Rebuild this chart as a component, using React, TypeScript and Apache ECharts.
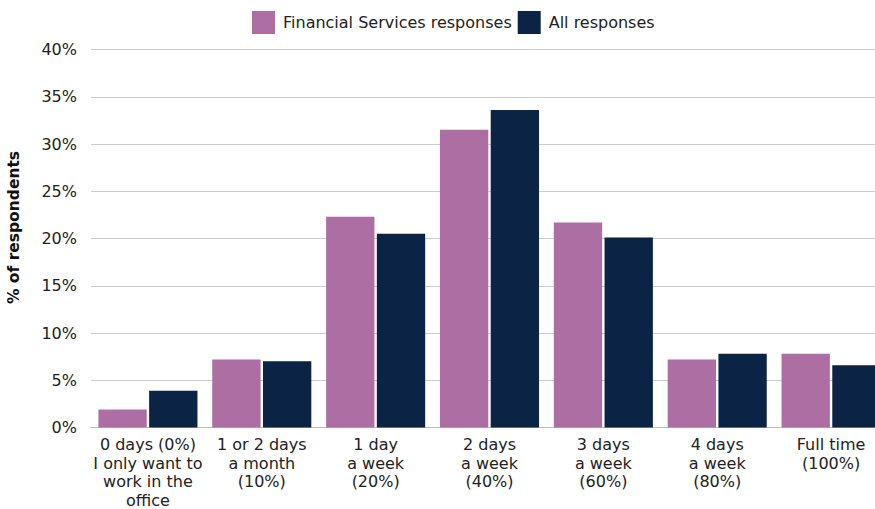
import React, { useEffect, useRef } from "react";
import * as echarts from "echarts";

const categories = [
  "0 days (0%)\nI only want to\nwork in the\noffice",
  "1 or 2 days\na month\n(10%)",
  "1 day\na week\n(20%)",
  "2 days\na week\n(40%)",
  "3 days\na week\n(60%)",
  "4 days\na week\n(80%)",
  "Full time\n(100%)",
];
const financialServices = [1.9, 7.2, 22.3, 31.5, 21.7, 7.2, 7.8];
const allResponses = [3.9, 7.0, 20.5, 33.6, 20.1, 7.8, 6.6];
const seriesNames = ["Financial Services responses", "All responses"];

const FONT = "DejaVu Sans";

export default function App() {
  const ref = useRef<HTMLDivElement>(null);
  useEffect(() => {
    const chart = echarts.init(ref.current!, null, { renderer: "svg" });
    chart.setOption({
      animation: false,
      textStyle: { fontFamily: FONT },
      legend: {
        top: 6,
        left: 247,
        itemWidth: 23,
        itemHeight: 23,
        itemGap: 6,
        icon: "rect",
        textStyle: { fontSize: 16, color: "#222", fontFamily: FONT, padding: [5, 0, 0, 3] },
        data: seriesNames,
      },
      grid: { left: 91, right: -13, top: 49.5, bottom: 81.5, containLabel: false, outerBoundsMode: "none" },
      xAxis: {
        type: "category",
        data: categories,
        axisLine: { show: true, lineStyle: { color: "#bbb", width: 1 } },
        axisTick: { show: false },
        axisLabel: {
          interval: 0,
          fontSize: 16,
          lineHeight: 18.5,
          color: "#222",
          margin: 8,
          fontFamily: FONT,
        },
      },
      yAxis: {
        type: "value",
        min: 0,
        max: 40,
        interval: 5,
        name: "% of respondents",
        nameLocation: "middle",
        nameGap: 69,
        nameRotate: 90,
        nameTextStyle: { fontSize: 15.5, fontWeight: "bold", color: "#111", fontFamily: FONT, padding: [0, 0, 0, 22] },
        axisLine: { show: false },
        axisTick: { show: false },
        axisLabel: { formatter: "{value}%", fontSize: 16, color: "#222", margin: 14, fontFamily: FONT },
        splitLine: { lineStyle: { color: "#ccc", width: 1 } },
      },
      series: [
        {
          name: seriesNames[0],
          type: "bar",
          data: financialServices,
          barGap: "5%",
          barCategoryGap: "13%",
          itemStyle: { color: "#AD6EA3" },
        },
        {
          name: seriesNames[1],
          type: "bar",
          data: allResponses,
          barGap: "5%",
          barCategoryGap: "13%",
          itemStyle: { color: "#0B2345" },
        },
      ],
    });
    return () => chart.dispose();
  }, []);
  return <div ref={ref} style={{ width: 875, height: 509, position: "absolute", left: 0, top: 0 }} />;
}
